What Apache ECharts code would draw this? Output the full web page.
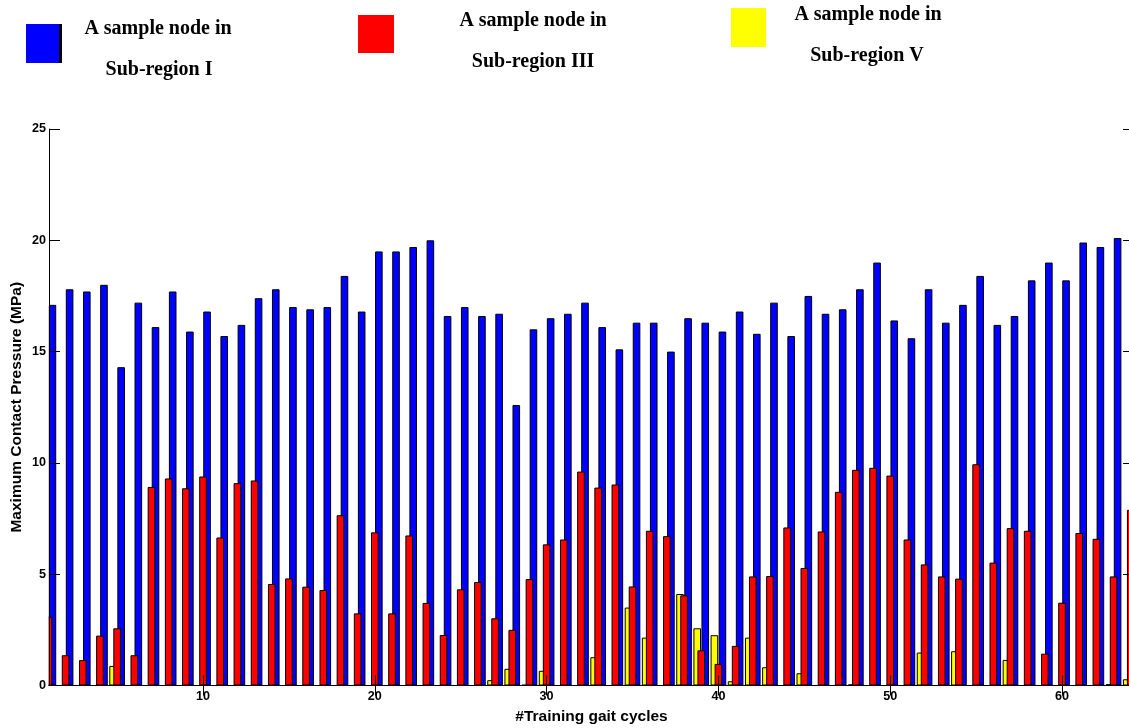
<!DOCTYPE html>
<html>
<head>
<meta charset="utf-8">
<script src="https://cdn.jsdelivr.net/npm/echarts@6/dist/echarts.min.js"></script>
<style>
html,body{margin:0;padding:0;background:#fff;}
#chart{width:1129px;height:728px;}
</style>
</head>
<body>
<div id="chart"></div>
<script>
// Training gait cycle numbers
const cycles = [1,2,3,4,5,6,7,8,9,10,11,12,13,14,15,16,17,18,19,20,21,22,23,24,25,26,27,28,29,30,31,32,
  33,34,35,36,37,38,39,40,41,42,43,44,45,46,47,48,49,50,51,52,53,54,55,56,57,58,59,60,61,62,63,64];
// Sub-region I (blue)
const subRegionI = [17.1,17.8,17.7,18.0,14.3,17.2,16.1,17.7,15.9,16.8,15.7,16.2,17.4,17.8,17.0,16.9,
  17.0,18.4,16.8,19.5,19.5,19.7,20.0,16.6,17.0,16.6,16.7,12.6,16.0,16.5,16.7,17.2,
  16.1,15.1,16.3,16.3,15.0,16.5,16.3,15.9,16.8,15.8,17.2,15.7,17.5,16.7,16.9,17.8,
  19.0,16.4,15.6,17.8,16.3,17.1,18.4,16.2,16.6,18.2,19.0,18.2,19.9,19.7,20.1,19.5];
// Sub-region III (red)
const subRegionIII = [3.09,1.36,1.14,2.24,2.57,1.36,8.92,9.30,8.86,9.39,6.65,9.09,9.21,4.56,4.81,4.44,
  4.29,7.65,3.24,6.88,3.24,6.74,3.71,2.27,4.32,4.65,3.02,2.50,4.78,6.34,6.56,9.61,
  8.89,9.03,4.45,6.95,6.71,4.05,1.58,0.97,1.78,4.90,4.92,7.10,5.28,6.92,8.70,9.69,
  9.78,9.43,6.56,5.44,4.90,4.80,9.94,5.52,7.07,6.95,1.43,3.72,6.85,6.59,4.90,7.89];
// Sub-region V (yellow)
const subRegionV = [0,0,0,0,0.88,0,0,0,0,0,0,0,0,0,0,0,
  0,0,0,0,0,0,0,0,0,0,0.24,0.75,0.03,0.66,0,0,
  1.27,0,3.50,2.15,0,4.11,2.57,2.26,0.19,2.15,0.82,0,0.55,0,0,0.05,
  0,0,0,1.48,0,1.54,0,0,1.15,0,0,0,0,0,0.06,0.28];
const xTicks = [10,20,30,40,50,60];
const legendLine1 = 'A sample node in';
const legendNames = ['Sub-region I','Sub-region III','Sub-region V'];

const pairs = arr => cycles.map((c, i) => [c, arr[i]]);
const chart = echarts.init(document.getElementById('chart'), null, {renderer: 'canvas'});
const labelFont = {fontFamily: 'Liberation Sans, Arial, sans-serif', fontWeight: 'bold', fontSize: 12.6, color: '#000'};
const nameFont = {fontFamily: 'Liberation Sans, Arial, sans-serif', fontWeight: 'bold', fontSize: 15.5, color: '#000'};
const legendFont = 'bold 20px "Liberation Serif", "Times New Roman", serif';

const barCommon = {
  type: 'bar',
  barWidth: 7.6,
  barGap: '-47%',
  clip: true,
  emphasis: {disabled: true},
  animation: false
};
const axisLineStyle = {show: true, lineStyle: {color: '#000', width: 1}};

chart.setOption({
  backgroundColor: '#fff',
  animation: false,
  grid: {left: 49, width: 1085, top: 129, bottom: 42.5, containLabel: false, outerBoundsMode: 'none'},
  xAxis: [{
    type: 'value', min: 1.035, max: 64.19, position: 'bottom', z: 10,
    name: '#Training gait cycles', nameLocation: 'middle', nameGap: 20,
    nameTextStyle: nameFont,
    axisLine: axisLineStyle,
    axisTick: {show: true, inside: true, length: 10, customValues: xTicks, lineStyle: {color: '#000'}},
    axisLabel: Object.assign({show: true, margin: 5, customValues: xTicks}, labelFont),
    splitLine: {show: false}
  }, {
    type: 'value', min: 1.035, max: 64.19, position: 'top', z: 10,
    axisLine: axisLineStyle,
    axisTick: {show: true, inside: true, length: 10, customValues: xTicks, lineStyle: {color: '#000'}},
    axisLabel: {show: false},
    splitLine: {show: false}
  }],
  yAxis: [{
    type: 'value', min: 0, max: 25, interval: 5, position: 'left', z: 10,
    name: 'Maximum Contact Pressure (MPa)', nameLocation: 'middle', nameGap: 24, nameMoveOverlap: false,
    nameTextStyle: nameFont,
    axisLine: axisLineStyle,
    axisTick: {show: true, inside: true, length: 11, lineStyle: {color: '#000'}},
    axisLabel: Object.assign({margin: 3}, labelFont),
    splitLine: {show: false}
  }, {
    type: 'value', min: 0, max: 25, interval: 5, position: 'right', z: 10,
    axisLine: axisLineStyle,
    axisTick: {show: true, inside: true, length: 11, lineStyle: {color: '#000'}},
    axisLabel: {show: false},
    splitLine: {show: false}
  }],
  series: [
    Object.assign({}, barCommon, {name: legendNames[2], data: pairs(subRegionV), z: 2, itemStyle: {color: '#FFFF00', borderColor: '#000', borderWidth: 1}}),
    Object.assign({}, barCommon, {name: legendNames[1], data: pairs(subRegionIII), z: 4, itemStyle: {color: '#FF0000', borderColor: '#000', borderWidth: 1}}),
    Object.assign({}, barCommon, {name: legendNames[0], data: pairs(subRegionI), z: 3, itemStyle: {color: '#0000FF', borderColor: '#000', borderWidth: 1}})
  ],
  graphic: [
    // mask for bar parts left of the plot box
    {type: 'rect', z: 6, shape: {x: 0, y: 120, width: 48.5, height: 570}, style: {fill: '#fff'}},
    {type: 'rect', shape: {x: 26, y: 24, width: 33, height: 39}, style: {fill: '#0000FF'}},
    {type: 'rect', shape: {x: 59, y: 24, width: 3, height: 39}, style: {fill: '#000'}},
    {type: 'text', style: {x: 158, y: 29, text: legendLine1, font: legendFont, fill: '#000', textAlign: 'center', textVerticalAlign: 'middle'}},
    {type: 'text', style: {x: 159, y: 70, text: legendNames[0], font: legendFont, fill: '#000', textAlign: 'center', textVerticalAlign: 'middle'}},
    {type: 'rect', shape: {x: 358, y: 15, width: 36, height: 38}, style: {fill: '#FF0000'}},
    {type: 'text', style: {x: 533, y: 21, text: legendLine1, font: legendFont, fill: '#000', textAlign: 'center', textVerticalAlign: 'middle'}},
    {type: 'text', style: {x: 533, y: 62, text: legendNames[1], font: legendFont, fill: '#000', textAlign: 'center', textVerticalAlign: 'middle'}},
    {type: 'rect', shape: {x: 731, y: 8, width: 35, height: 39}, style: {fill: '#FFFF00'}},
    {type: 'text', style: {x: 868, y: 15, text: legendLine1, font: legendFont, fill: '#000', textAlign: 'center', textVerticalAlign: 'middle'}},
    {type: 'text', style: {x: 867, y: 56, text: legendNames[2], font: legendFont, fill: '#000', textAlign: 'center', textVerticalAlign: 'middle'}}
  ]
});
</script>
</body>
</html>
